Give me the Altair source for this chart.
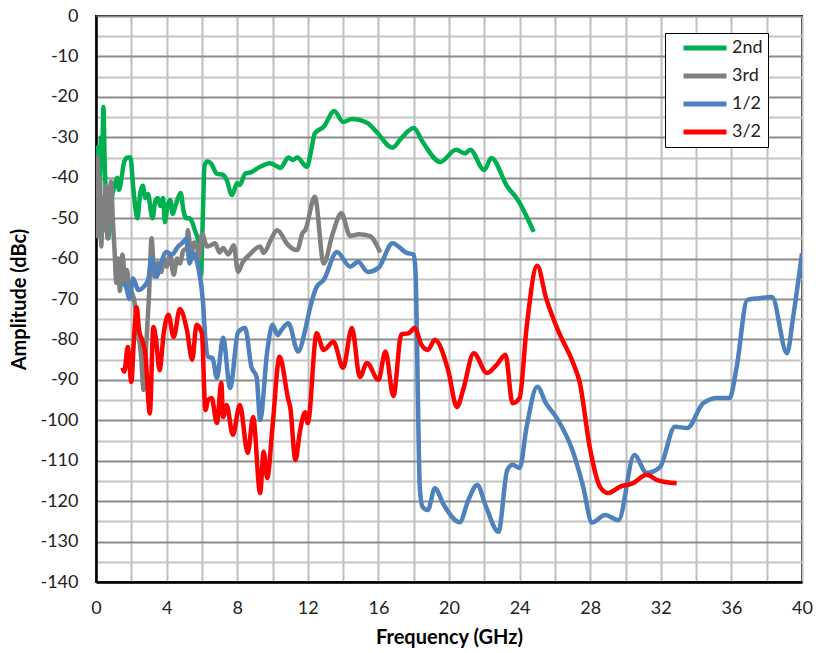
import altair as alt
import pandas as pd

series_names = ["2nd", "3rd", "1/2", "3/2"]
series_colors = ["#00B050", "#808080", "#4F81BD", "#FF0000"]

green_f = [0.05, 0.12, 0.2, 0.28, 0.35, 0.42, 0.5, 0.6, 0.7, 0.8, 0.9, 1.05, 1.2, 1.3, 1.45, 1.6, 1.8, 1.95,
           2.1, 2.25, 2.35, 2.5, 2.65, 2.8, 2.95, 3.1, 3.2, 3.35, 3.5, 3.65, 3.8, 3.9, 4.05, 4.2, 4.35, 4.5,
           4.65, 4.8, 4.95, 5.1, 5.3, 5.45, 5.6, 5.8, 5.95, 6.05, 6.15, 6.3, 6.5, 6.85, 7.2, 7.4, 7.7, 8.0,
           8.15, 8.45, 8.8, 9.3, 9.85, 10.3, 10.45, 10.9, 11.15, 11.4, 11.95, 12.2, 12.4, 12.9, 13.5, 14.0,
           14.5, 15.4, 15.9, 16.8, 17.3, 18.0, 18.5, 19.5, 20.4, 20.9, 21.2, 22.0, 22.4, 23.3, 23.9, 24.8]
green_db = [-32, -38, -45, -30, -35, -22.5, -38, -46, -55, -50, -45, -42, -40, -43, -40, -36, -35, -35,
            -42, -48, -50, -44, -42, -45, -44, -48, -50, -46, -45, -47, -45, -51, -47, -45.5, -49, -47,
            -45, -43.8, -48, -50, -50, -51, -53, -56, -64, -50, -37, -36, -36.4, -39, -39.3, -40.5, -44.3, -41.3,
            -41.8, -39, -38.6, -37.3, -36.4, -37.3, -37.6, -35, -35.6, -35, -37.3, -33, -29, -27.4, -23.5, -26.2,
            -25.5, -26.5, -28.7, -32.6, -30.2, -27.7, -31.1, -36.1, -33.1, -34, -33.1, -38.1, -35.1, -42.2, -45.5, -53.4]

gray_f = [0.05, 0.1, 0.15, 0.22, 0.3, 0.38, 0.45, 0.55, 0.65, 0.75, 0.85, 0.95, 1.05, 1.15, 1.25, 1.35, 1.5,
          1.65, 1.75, 1.85, 2.0, 2.15, 2.4, 2.55, 2.7, 2.85, 3.0, 3.15, 3.3, 3.5, 3.7, 3.85, 4.0, 4.2, 4.4,
          4.6, 4.75, 4.95, 5.15, 5.2, 5.4, 5.55, 5.7, 5.85, 6.0, 6.3, 6.5, 6.75, 7.0, 7.2, 7.5, 7.8, 8.05,
          8.3, 8.7, 9.3, 9.5, 9.9, 10.25, 10.4, 10.8, 11.4, 11.7, 11.85, 12.4, 12.9, 13.4, 13.9, 14.4, 14.9,
          15.5, 16.1]
gray_db = [-55, -35, -50, -40, -57, -45, -53, -42, -55, -47, -41, -50, -58, -66, -60, -68, -59,
           -66, -62.8, -66, -68, -70, -78.5, -84, -92.5, -81, -69.5, -55, -64.5, -61, -63.3, -60, -62, -59, -64,
           -60, -61.2, -58, -57.4, -53, -59, -56, -56.7, -60, -53.8, -57, -56.7, -56.2, -58.5, -57.4, -59, -56.7, -63.3,
           -61, -59, -57, -58.6, -55.4, -53, -53.4, -56.2, -57.9, -53.7, -53, -44.7, -61.2, -54, -48.8, -54.4, -54,
           -54.4, -58.5]

blue_f = [1.5, 1.7, 1.9, 2.1, 2.4, 2.7, 2.95, 3.15, 3.45, 3.6, 4.0, 4.3, 4.65, 4.95, 5.15, 5.3, 5.5, 5.8,
          6.05, 6.2, 6.35, 6.6, 6.85, 7.2, 7.6, 8.05, 8.45, 8.8, 9.1, 9.3, 9.7, 10.0, 10.3, 10.5, 10.9, 11.45,
          11.85, 12.1, 12.5, 12.9, 13.65, 14.4, 14.85, 15.4, 16.0, 16.8, 17.6, 18.0, 18.1, 18.35, 18.5, 18.8,
          19.2, 19.7, 20.6, 21.1, 21.6, 22.1, 22.8, 23.3, 23.6, 24.0, 24.4, 25.0, 25.5, 26.1, 27.0, 27.6, 28.1,
          28.85, 29.6, 30.5, 31.2, 31.95, 32.8, 33.5, 34.4, 35.2, 35.9, 36.3, 36.9, 37.6, 38.3, 39.15, 39.5, 40.0]
blue_db = [-66, -67, -70, -64.9, -67.8, -67, -65.3, -59.9, -64.5, -62.3, -58.4, -59, -57, -55.9, -55, -61.2, -58.6, -62.3,
           -70.2, -80, -84.3, -84.6, -89.5, -79.6, -92, -78.2, -77.2, -86.7, -89.3, -99.9, -83, -76.4, -78.9, -77.7, -76, -83,
           -77.7, -72.7, -67, -65.3, -58.4, -62, -60.8, -63.3, -62.3, -56.2, -58.6, -59, -63, -117, -121.4, -122.2,
           -116.8, -120.9, -125.2, -119.7, -116, -121.4, -127.6, -112.3, -111, -111.8, -101.6, -91.7, -95.8, -99.4, -107.5, -116.4, -125.3,
           -123.4, -124.7, -108.6, -113, -111.6, -101.6, -101.9, -95.8, -94.5, -94.5, -86.8, -70.2, -69.8, -69.5, -83.4, -74.4, -58.7]

red_f = [1.5, 1.6, 1.8, 2.0, 2.15, 2.3, 2.45, 2.6, 2.8, 3.05, 3.25, 3.4, 3.6, 3.85, 4.1, 4.4, 4.75, 5.15,
         5.45, 5.7, 6.0, 6.2, 6.35, 6.55, 6.85, 7.1, 7.2, 7.4, 7.75, 8.15, 8.6, 8.9, 9.3, 9.5, 9.7, 10.0,
         10.4, 10.9, 11.0, 11.3, 11.55, 11.85, 12.0, 12.5, 12.9, 13.45, 14.0, 14.5, 14.95, 15.35, 16.0, 16.4,
         16.85, 17.3, 17.7, 18.05, 18.45, 18.8, 19.2, 19.95, 20.45, 20.8, 21.4, 22.15, 22.7, 23.2, 23.6, 24.0,
         24.4, 25.0, 25.5, 26.2, 27.0, 27.4, 28.0, 28.55, 29.0, 29.7, 30.4, 31.2, 31.8, 32.9]
red_db = [-87, -88, -81.9, -90.5, -80, -72, -78, -80, -83.8, -98.3, -76.9, -80, -87.6, -78, -73.9, -79.4, -72.5, -77.7,
          -85, -76.4, -78.5, -97.5, -95, -94.5, -100.7, -90.8, -99.2, -96.2, -103.6, -96.2, -108.1, -99.2, -118, -107.8, -114.3, -101.6,
          -84.3, -95, -96.7, -109.8, -102.9, -98, -100.7, -78.5, -82.6, -80.6, -87, -77.2, -89.3, -85.8, -90, -83,
          -94, -78.7, -78.5, -77.2, -81.4, -82.6, -80.1, -87.6, -96.7, -92.5, -83.4, -88.3, -86.3, -83.8, -95.8, -94.5,
          -76.9, -61.8, -69.8, -78, -85.5, -90.5, -107.3, -116.4, -118, -116.4, -115.6, -113.5, -114.8, -115.6]

x_ticks = list(range(0, 41, 2))
y_ticks = list(range(-140, 1, 5))

rows = []
for name, fs, dbs in zip(series_names, [green_f, gray_f, blue_f, red_f], [green_db, gray_db, blue_db, red_db]):
    for i, (f, d) in enumerate(zip(fs, dbs)):
        rows.append({"series": name, "f": f, "db": d, "i": i})
df = pd.DataFrame(rows)

FONT = "Lato"

chart = alt.Chart(df).mark_line(interpolate="monotone", strokeWidth=4.5, clip=True).encode(
    x=alt.X("f:Q", title="Frequency (GHz)",
            scale=alt.Scale(domain=[0, 40], nice=False, zero=False),
            axis=alt.Axis(values=x_ticks, labelExpr="datum.value % 4 === 0 ? '' + datum.value : ''",
                          ticks=False, labelPadding=17, titlePadding=10,
                          gridColor="#BFBFBF", gridWidth=2,
                          domainColor="#000000", domainWidth=2.5, labelFlush=False)),
    y=alt.Y("db:Q", title="Amplitude (dBc)",
            scale=alt.Scale(domain=[-140, 0], nice=False, zero=False),
            axis=alt.Axis(values=y_ticks, labelExpr="datum.value % 10 === 0 ? '' + datum.value : ''",
                          ticks=False, labelPadding=18, titlePadding=10,
                          gridColor={"condition": {"test": "datum.value % 10 === 0", "value": "#8C8C8C"},
                                     "value": "#C4C4C4"},
                          gridWidth=2, domainColor="#000000", domainWidth=2.5, labelFlush=False)),
    color=alt.Color("series:N", scale=alt.Scale(domain=series_names, range=series_colors),
                    legend=alt.Legend(title=None, orient="none", legendX=569, legendY=17,
                                      symbolType="stroke", symbolSize=1849, symbolStrokeWidth=5,
                                      clipHeight=20, symbolOffset=11,
                                      labelFontSize=18, labelFont=FONT, labelColor="#222222",
                                      labelExpr="datum.label + '        '",
                                      strokeColor="#000000", fillColor="#FFFFFF", padding=5,
                                      rowPadding=8, labelOffset=3)),
    detail="series:N",
    order="i:Q",
).properties(
    width=706, height=566,
    autosize=alt.AutoSizeParams(type="none"),
    padding={"left": 96, "top": 16, "right": 14, "bottom": 71},
).configure_view(
    stroke="#000000", strokeWidth=2
).configure_axis(
    labelFont=FONT, labelFontSize=18, labelColor="#222222",
    titleFont=FONT, titleFontSize=20, titleFontWeight="bold", titleColor="#000000"
)

chart.save("out.html", embed_options={"renderer": "svg", "actions": False})
